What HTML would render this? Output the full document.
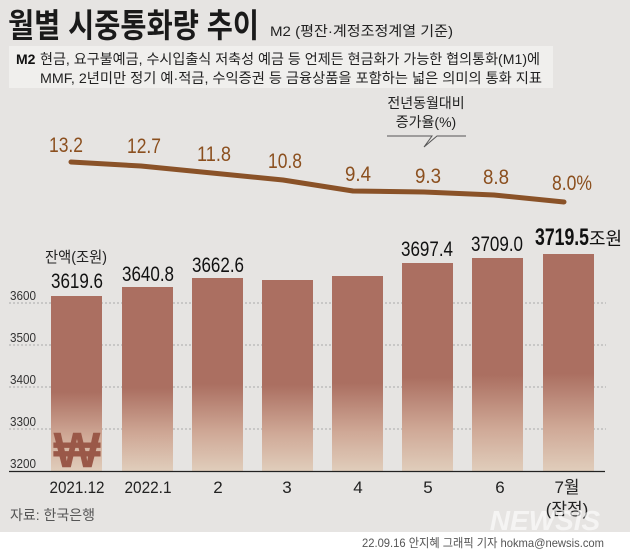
<!DOCTYPE html>
<html><head><meta charset="utf-8"><style>
html,body{margin:0;padding:0;background:#e6e4e2;}
svg{display:block;font-family:"Liberation Sans","Noto Sans CJK KR",sans-serif;}
</style></head><body>
<svg width="630" height="557" viewBox="0 0 630 557" xmlns="http://www.w3.org/2000/svg">
<defs>
<linearGradient id="g" x1="0" y1="0" x2="0" y2="1" gradientUnits="objectBoundingBox">
<stop offset="0" stop-color="#ab6f61"/>
<stop offset="0.55" stop-color="#ab6f61"/>
<stop offset="0.8" stop-color="#cfa896"/>
<stop offset="1" stop-color="#e0cdbb"/>
</linearGradient>
</defs>
<rect width="630" height="557" fill="#e6e4e2"/>
<text x="8" y="37" font-size="33" font-weight="bold" fill="#1a1a1a" textLength="251" lengthAdjust="spacingAndGlyphs">월별 시중통화량 추이</text>
<text x="270" y="36" font-size="14" fill="#222" textLength="183" lengthAdjust="spacingAndGlyphs">M2 (평잔·계정조정계열 기준)</text>
<rect x="9" y="46" width="544" height="42" fill="#f0efed"/>
<text x="16" y="64" font-size="14" font-weight="bold" fill="#111">M2</text>
<text x="40" y="64" font-size="14" fill="#222" textLength="500" lengthAdjust="spacingAndGlyphs">현금, 요구불예금, 수시입출식 저축성 예금 등 언제든 현금화가 가능한 협의통화(M1)에</text>
<text x="40" y="83" font-size="14" fill="#222" textLength="502" lengthAdjust="spacingAndGlyphs">MMF, 2년미만 정기 예·적금, 수익증권 등 금융상품을 포함하는 넓은 의미의 통화 지표</text>
<text x="426" y="108" font-size="14" fill="#222" text-anchor="middle">전년동월대비</text>
<text x="426" y="127" font-size="14" fill="#222" text-anchor="middle">증가율(%)</text>
<polyline points="387,136 432,136 424,147 437,136 466,136" fill="none" stroke="#555" stroke-width="1"/>
<g font-size="21" fill="#8b4f1e" text-anchor="middle">
<text x="66" y="152" textLength="34" lengthAdjust="spacingAndGlyphs">13.2</text>
<text x="144" y="153" textLength="34" lengthAdjust="spacingAndGlyphs">12.7</text>
<text x="214" y="161" textLength="34" lengthAdjust="spacingAndGlyphs">11.8</text>
<text x="285" y="168" textLength="34" lengthAdjust="spacingAndGlyphs">10.8</text>
<text x="358" y="181" textLength="26" lengthAdjust="spacingAndGlyphs">9.4</text>
<text x="428" y="183" textLength="26" lengthAdjust="spacingAndGlyphs">9.3</text>
<text x="496" y="184" textLength="26" lengthAdjust="spacingAndGlyphs">8.8</text>
<text x="572" y="190" textLength="40" lengthAdjust="spacingAndGlyphs">8.0%</text>
</g>
<polyline points="71,162 141,166 212,173 283,180 353,191 424,192 494,195 564,202" fill="none" stroke="#8a5228" stroke-width="5" stroke-linecap="round" stroke-linejoin="round"/>
<g stroke="#aaa" stroke-width="1" stroke-dasharray="2,2">
<line x1="9" y1="303" x2="606" y2="303"/>
<line x1="9" y1="345" x2="606" y2="345"/>
<line x1="9" y1="387" x2="606" y2="387"/>
<line x1="9" y1="429" x2="606" y2="429"/>
</g>
<g font-size="13" fill="#333">
<text x="10" y="300" textLength="26" lengthAdjust="spacingAndGlyphs">3600</text>
<text x="10" y="342" textLength="26" lengthAdjust="spacingAndGlyphs">3500</text>
<text x="10" y="384" textLength="26" lengthAdjust="spacingAndGlyphs">3400</text>
<text x="10" y="426" textLength="26" lengthAdjust="spacingAndGlyphs">3300</text>
<text x="10" y="468" textLength="26" lengthAdjust="spacingAndGlyphs">3200</text>
</g>
<g fill="url(#g)">
<rect x="51" y="296" width="51" height="175"/>
<rect x="122" y="287" width="51" height="184"/>
<rect x="192" y="278" width="51" height="193"/>
<rect x="262" y="280" width="51" height="191"/>
<rect x="332" y="276" width="51" height="195"/>
<rect x="402" y="263" width="51" height="208"/>
<rect x="472" y="258" width="51" height="213"/>
<rect x="543" y="254" width="51" height="217"/>
</g>
<text x="77" y="467" font-size="50" font-weight="bold" fill="#9a5848" text-anchor="middle">₩</text>
<line x1="9" y1="471.5" x2="605" y2="471.5" stroke="#222" stroke-width="1.2"/>
<text x="45" y="262" font-size="15" fill="#222" textLength="62" lengthAdjust="spacingAndGlyphs">잔액(조원)</text>
<g font-size="21" fill="#111" text-anchor="middle">
<text x="77" y="288" textLength="52" lengthAdjust="spacingAndGlyphs">3619.6</text>
<text x="148" y="281" textLength="52" lengthAdjust="spacingAndGlyphs">3640.8</text>
<text x="218" y="272" textLength="52" lengthAdjust="spacingAndGlyphs">3662.6</text>
<text x="427" y="256" textLength="52" lengthAdjust="spacingAndGlyphs">3697.4</text>
<text x="497" y="251" textLength="52" lengthAdjust="spacingAndGlyphs">3709.0</text>
</g>
<text x="535" y="245" font-size="24" font-weight="bold" fill="#111" textLength="54" lengthAdjust="spacingAndGlyphs">3719.5</text>
<text x="589" y="245" font-size="18" fill="#111">조원</text>
<g font-size="17" fill="#222" text-anchor="middle">
<text x="77" y="493" textLength="55" lengthAdjust="spacingAndGlyphs">2021.12</text>
<text x="148" y="493" textLength="47" lengthAdjust="spacingAndGlyphs">2022.1</text>
<text x="218" y="493">2</text>
<text x="287" y="493">3</text>
<text x="358" y="493">4</text>
<text x="428" y="493">5</text>
<text x="500" y="493">6</text>
<text x="567" y="493">7월</text>
<text x="567" y="515">(잠정)</text>
</g>
<text x="10" y="520" font-size="14" fill="#555">자료: 한국은행</text>
<text x="545" y="530" font-size="28" font-weight="bold" font-style="italic" fill="#ffffff" fill-opacity="0.6" text-anchor="middle">NEWSIS</text>
<rect x="0" y="532" width="630" height="25" fill="#ffffff"/>
<text x="604" y="547" font-size="12" fill="#555" text-anchor="end" textLength="242" lengthAdjust="spacingAndGlyphs">22.09.16 안지혜 그래픽 기자 hokma@newsis.com</text>
</svg>
</body></html>
